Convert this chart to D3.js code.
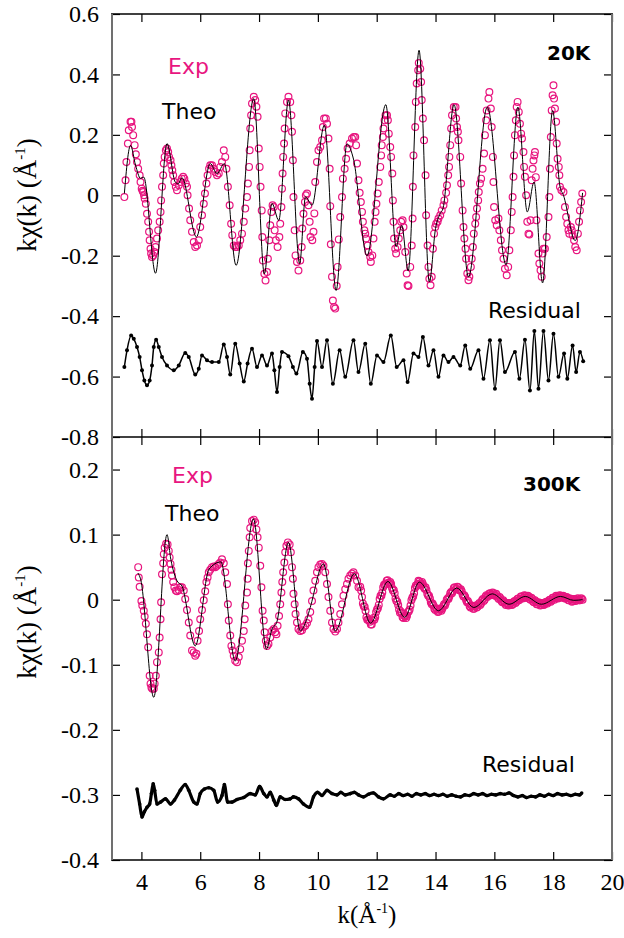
<!DOCTYPE html>
<html><head><meta charset="utf-8">
<script src="https://cdn.jsdelivr.net/npm/d3@7"></script>
<style>body{margin:0;background:#fff}</style>
</head><body>
<svg id="c" width="624" height="938"></svg>
<script>
const xTicks=[4,6,8,10,12,14,16,18,20];
const xLabels=["4","6","8","10","12","14","16","18","20"];
const topYTicks=[0.6,0.4,0.2,0,-0.2,-0.4,-0.6,-0.8];
const topYLabels=["0.6","0.4","0.2","0","-0.2","-0.4","-0.6","-0.8"];
const botYTicks=[0.2,0.1,0,-0.1,-0.2,-0.3,-0.4];
const botYLabels=["0.2","0.1","0","-0.1","-0.2","-0.3","-0.4"];

const topExp=[[3.42,-0.006],[3.46,0.05],[3.49,0.11],[3.54,0.171],[3.57,0.215],[3.63,0.243],[3.66,0.243],[3.68,0.226],[3.72,0.199],[3.77,0.166],[3.81,0.136],[3.85,0.11],[3.89,0.088],[3.94,0.066],[3.97,0.044],[4.01,0.022],[4.04,0.015],[4.06,0.011],[4.09,0],[4.11,-0.011],[4.15,-0.028],[4.19,-0.061],[4.23,-0.088],[4.26,-0.121],[4.28,-0.149],[4.31,-0.177],[4.33,-0.193],[4.36,-0.204],[4.40,-0.199],[4.44,-0.188],[4.48,-0.171],[4.53,-0.143],[4.57,-0.116],[4.62,-0.088],[4.65,-0.055],[4.67,-0.017],[4.70,0.028],[4.74,0.066],[4.76,0.105],[4.79,0.127],[4.83,0.149],[4.87,0.155],[4.91,0.143],[4.94,0.127],[4.99,0.116],[5.02,0.099],[5.05,0.083],[5.08,0.066],[5.12,0.044],[5.17,0.028],[5.21,0.017],[5.27,0.033],[5.32,0.044],[5.37,0.055],[5.42,0.061],[5.46,0.055],[5.51,0.039],[5.55,0.028],[5.57,0],[5.62,-0.044],[5.66,-0.083],[5.72,-0.121],[5.78,-0.155],[5.83,-0.171],[5.89,-0.166],[5.95,-0.149],[6.00,-0.105],[6.06,-0.066],[6.12,-0.028],[6.16,0.006],[6.21,0.039],[6.25,0.066],[6.30,0.088],[6.34,0.099],[6.40,0.099],[6.46,0.088],[6.51,0.077],[6.57,0.066],[6.63,0.072],[6.68,0.094],[6.74,0.110],[6.80,0.149],[6.85,0.127],[6.89,0.088],[6.94,0.028],[7.00,-0.033],[7.05,-0.094],[7.09,-0.132],[7.14,-0.166],[7.19,-0.171],[7.25,-0.171],[7.31,-0.166],[7.36,-0.149],[7.42,-0.127],[7.48,-0.088],[7.53,-0.044],[7.59,-0.006],[7.62,0.039],[7.66,0.094],[7.68,0.149],[7.70,0.221],[7.73,0.265],[7.76,0.304],[7.82,0.326],[7.87,0.315],[7.91,0.293],[7.95,0.260],[7.99,0.155],[8.02,0.094],[8.05,0.028],[8.09,-0.050],[8.11,-0.138],[8.13,-0.216],[8.18,-0.260],[8.22,-0.282],[8.27,-0.254],[8.30,-0.210],[8.35,-0.149],[8.38,-0.099],[8.42,-0.055],[8.46,-0.033],[8.50,-0.039],[8.53,-0.116],[8.57,-0.149],[8.63,-0.171],[8.69,-0.138],[8.72,-0.094],[8.76,-0.039],[8.78,0.022],[8.80,0.072],[8.82,0.127],[8.85,0.171],[8.87,0.221],[8.89,0.271],[8.95,0.309],[9.00,0.326],[9.06,0.309],[9.10,0.265],[9.12,0.210],[9.15,0.116],[9.17,-0.006],[9.21,-0.116],[9.24,-0.199],[9.29,-0.221],[9.34,-0.249],[9.40,-0.216],[9.45,-0.171],[9.47,-0.110],[9.51,-0.061],[9.56,-0.022],[9.59,0],[9.63,0.006],[9.68,-0.033],[9.72,-0.088],[9.75,-0.138],[9.81,-0.149],[9.85,-0.121],[9.88,-0.06],[9.91,0.044],[9.97,0.11],[10.02,0.149],[10.08,0.16],[10.14,0.182],[10.17,0.226],[10.21,0.254],[10.27,0.254],[10.31,0.237],[10.36,0.188],[10.40,0.088],[10.42,-0.036],[10.44,-0.162],[10.48,-0.270],[10.51,-0.348],[10.55,-0.37],[10.59,-0.375],[10.64,-0.30],[10.67,-0.237],[10.71,-0.146],[10.76,-0.072],[10.82,-0.006],[10.85,0.055],[10.91,0.088],[10.96,0.121],[11.01,0.155],[11.08,0.171],[11.16,0.188],[11.22,0.193],[11.27,0.193],[11.30,0.166],[11.33,0.105],[11.38,0.05],[11.42,0.008],[11.46,-0.022],[11.50,-0.055],[11.53,-0.088],[11.58,-0.116],[11.61,-0.127],[11.64,-0.143],[11.69,-0.166],[11.72,-0.188],[11.78,-0.204],[11.80,-0.221],[11.85,-0.199],[11.89,-0.143],[11.93,-0.088],[11.96,-0.055],[11.99,-0.028],[12.03,0.006],[12.07,0.044],[12.12,0.094],[12.15,0.132],[12.17,0.166],[12.21,0.193],[12.23,0.221],[12.27,0.248],[12.30,0.265],[12.35,0.265],[12.38,0.248],[12.41,0.204],[12.46,0.160],[12.49,0.127],[12.53,0.072],[12.55,-0.017],[12.57,-0.088],[12.59,-0.143],[12.63,-0.177],[12.66,-0.193],[12.71,-0.171],[12.75,-0.143],[12.80,-0.116],[12.83,-0.088],[12.88,-0.083],[12.91,-0.105],[12.97,-0.188],[13.02,-0.259],[13.05,-0.298],[13.08,-0.30],[13.14,-0.237],[13.19,-0.166],[13.22,-0.077],[13.23,0.028],[13.25,0.132],[13.31,0.226],[13.33,0.309],[13.36,0.37],[13.41,0.414],[13.43,0.438],[13.48,0.419],[13.51,0.375],[13.53,0.315],[13.57,0.254],[13.61,0.182],[13.66,0.066],[13.68,-0.066],[13.73,-0.166],[13.76,-0.237],[13.79,-0.276],[13.83,-0.298],[13.87,-0.27],[13.91,-0.177],[13.95,-0.127],[13.99,-0.105],[14.02,-0.094],[14.07,-0.088],[14.10,-0.077],[14.16,-0.066],[14.21,-0.05],[14.27,-0.033],[14.30,-0.017],[14.36,0.008],[14.39,0.033],[14.43,0.066],[14.46,0.094],[14.47,0.127],[14.50,0.166],[14.53,0.221],[14.56,0.265],[14.62,0.292],[14.68,0.292],[14.70,0.254],[14.73,0.226],[14.76,0.21],[14.78,0.182],[14.84,0.127],[14.87,0.039],[14.92,-0.05],[14.95,-0.105],[14.98,-0.143],[15.02,-0.177],[15.04,-0.21],[15.08,-0.259],[15.12,-0.281],[15.15,-0.27],[15.20,-0.237],[15.23,-0.21],[15.27,-0.171],[15.30,-0.127],[15.35,-0.094],[15.38,-0.072],[15.41,-0.044],[15.45,-0.017],[15.47,0.011],[15.51,0.039],[15.55,0.055],[15.60,0.088],[15.65,0.138],[15.68,0.199],[15.72,0.248],[15.74,0.281],[15.80,0.32],[15.83,0.342],[15.88,0.287],[15.91,0.226],[15.95,0.127],[15.97,0.044],[15.99,-0.039],[16.03,-0.083],[16.08,-0.099],[16.14,-0.077],[16.17,-0.116],[16.22,-0.149],[16.26,-0.182],[16.31,-0.21],[16.36,-0.243],[16.42,-0.265],[16.47,-0.237],[16.51,-0.182],[16.56,-0.116],[16.59,-0.055],[16.62,-0.006],[16.65,0.061],[16.67,0.132],[16.70,0.199],[16.73,0.248],[16.76,0.292],[16.79,0.309],[16.83,0.276],[16.87,0.237],[16.91,0.204],[16.94,0.188],[16.99,0.143],[17.01,0.094],[17.04,0.061],[17.08,0.0],[17.12,-0.088],[17.16,-0.127],[17.19,-0.13],[17.23,-0.083],[17.27,0.05],[17.30,0.088],[17.33,0.115],[17.36,0.132],[17.38,0.143],[17.41,0.06],[17.43,-0.083],[17.50,-0.193],[17.53,-0.226],[17.57,-0.248],[17.61,-0.27],[17.64,-0.193],[17.67,-0.177],[17.72,-0.177],[17.78,-0.138],[17.84,-0.072],[17.87,-0.006],[17.89,0.088],[17.92,0.193],[17.95,0.281],[17.98,0.331],[18.01,0.364],[18.03,0.32],[18.06,0.287],[18.10,0.243],[18.12,0.171],[18.15,0.121],[18.19,0.094],[18.21,0.066],[18.23,0.028],[18.28,0.017],[18.35,0.011],[18.40,-0.039],[18.44,-0.072],[18.48,-0.094],[18.52,-0.116],[18.55,-0.127],[18.60,-0.105],[18.63,-0.116],[18.66,-0.132],[18.71,-0.149],[18.75,-0.171],[18.80,-0.182],[18.84,-0.127],[18.88,-0.088],[18.91,-0.05],[18.95,-0.022],[18.99,0.006]];

const topTheo=[[3.42,0.006],[3.63,0.165],[3.80,0.10],[3.97,0.056],[4.08,0.06],[4.48,-0.258],[4.87,0.171],[5.15,0.044],[5.25,0.038],[5.38,0.058],[5.87,-0.138],[6.34,0.105],[6.57,0.072],[6.82,0.105],[7.22,-0.232],[7.82,0.32],[8.18,-0.26],[8.44,-0.027],[8.67,-0.083],[9.0,0.315],[9.38,-0.226],[9.58,-0.005],[9.80,-0.033],[10.22,0.232],[10.62,-0.315],[10.99,0.17],[11.21,0.12],[11.67,-0.2],[12.31,0.30],[12.66,-0.17],[12.85,-0.10],[13.07,-0.25],[13.44,0.48],[13.79,-0.287],[14.0,-0.11],[14.16,-0.06],[14.25,-0.045],[14.63,0.30],[15.12,-0.27],[15.76,0.292],[16.40,-0.23],[16.80,0.292],[17.12,-0.055],[17.35,0.044],[17.64,-0.29],[17.98,0.28],[18.23,0.03],[18.35,0.0],[18.75,-0.15],[19.0,0.008]];

const topRes=[[3.42,-0.568],[3.51,-0.513],[3.65,-0.464],[3.74,-0.475],[3.85,-0.502],[3.94,-0.535],[4.02,-0.579],[4.10,-0.613],[4.19,-0.629],[4.28,-0.613],[4.36,-0.563],[4.42,-0.502],[4.50,-0.478],[4.59,-0.502],[4.70,-0.535],[4.87,-0.563],[5.10,-0.579],[5.27,-0.563],[5.49,-0.522],[5.61,-0.535],[5.83,-0.593],[5.95,-0.574],[6.06,-0.530],[6.23,-0.546],[6.40,-0.552],[6.63,-0.552],[6.80,-0.494],[6.91,-0.535],[7.02,-0.593],[7.19,-0.491],[7.34,-0.557],[7.48,-0.616],[7.61,-0.557],[7.76,-0.508],[7.93,-0.568],[8.10,-0.530],[8.27,-0.563],[8.44,-0.524],[8.52,-0.579],[8.61,-0.651],[8.70,-0.568],[8.78,-0.519],[9.00,-0.533],[9.15,-0.568],[9.27,-0.590],[9.49,-0.519],[9.63,-0.541],[9.72,-0.624],[9.80,-0.673],[9.89,-0.568],[9.97,-0.482],[10.14,-0.568],[10.31,-0.480],[10.51,-0.624],[10.74,-0.513],[10.93,-0.601],[11.21,-0.480],[11.38,-0.585],[11.61,-0.491],[11.80,-0.624],[12.01,-0.530],[12.23,-0.552],[12.48,-0.464],[12.68,-0.568],[12.91,-0.546],[13.05,-0.618],[13.25,-0.524],[13.42,-0.535],[13.57,-0.469],[13.76,-0.563],[13.93,-0.513],[14.10,-0.601],[14.27,-0.530],[14.44,-0.552],[14.61,-0.535],[14.84,-0.563],[15.01,-0.497],[15.18,-0.574],[15.46,-0.513],[15.63,-0.607],[15.85,-0.480],[16.02,-0.640],[16.19,-0.480],[16.36,-0.585],[16.70,-0.519],[16.85,-0.607],[17.04,-0.478],[17.21,-0.646],[17.36,-0.449],[17.50,-0.640],[17.67,-0.449],[17.84,-0.613],[18.01,-0.458],[18.18,-0.601],[18.37,-0.524],[18.48,-0.607],[18.66,-0.497],[18.78,-0.585],[18.91,-0.519],[19.02,-0.549]];

const botExp=[[3.89,0.050],[3.91,0.034],[3.94,0.020],[4.00,-0.002],[4.03,-0.009],[4.08,-0.017],[4.11,-0.026],[4.15,-0.037],[4.19,-0.053],[4.23,-0.073],[4.28,-0.117],[4.31,-0.129],[4.34,-0.135],[4.37,-0.137],[4.42,-0.137],[4.45,-0.129],[4.49,-0.117],[4.53,-0.096],[4.59,-0.081],[4.62,-0.058],[4.65,-0.030],[4.67,-0.004],[4.70,0.039],[4.74,0.056],[4.76,0.070],[4.79,0.080],[4.84,0.086],[4.89,0.085],[4.93,0.075],[4.96,0.065],[4.99,0.055],[5.02,0.046],[5.04,0.037],[5.08,0.027],[5.12,0.019],[5.17,0.014],[5.21,0.013],[5.27,0.015],[5.32,0.019],[5.38,0.019],[5.44,0.014],[5.49,0.001],[5.55,-0.016],[5.61,-0.035],[5.66,-0.055],[5.72,-0.078],[5.78,-0.081],[5.83,-0.086],[5.87,-0.083],[5.91,-0.063],[5.96,-0.048],[6.00,-0.030],[6.06,-0.016],[6.12,-0.001],[6.17,0.013],[6.21,0.027],[6.25,0.034],[6.29,0.042],[6.34,0.046],[6.40,0.050],[6.46,0.051],[6.51,0.050],[6.57,0.052],[6.63,0.055],[6.68,0.057],[6.74,0.062],[6.80,0.056],[6.85,0.042],[6.91,0.024],[6.94,-0.007],[6.97,-0.032],[7.02,-0.055],[7.06,-0.071],[7.10,-0.078],[7.14,-0.086],[7.19,-0.094],[7.25,-0.096],[7.31,-0.088],[7.36,-0.076],[7.42,-0.063],[7.48,-0.048],[7.51,-0.030],[7.53,-0.009],[7.59,0.011],[7.61,0.032],[7.62,0.056],[7.65,0.075],[7.68,0.096],[7.70,0.110],[7.76,0.121],[7.82,0.123],[7.87,0.119],[7.91,0.108],[7.95,0.096],[7.99,0.080],[8.04,0.052],[8.08,0.019],[8.12,-0.017],[8.16,-0.032],[8.19,-0.050],[8.23,-0.063],[8.27,-0.071],[8.32,-0.068],[8.38,-0.058],[8.44,-0.048],[8.50,-0.045],[8.55,-0.050],[8.59,-0.053],[8.63,-0.040],[8.68,-0.025],[8.72,-0.007],[8.76,0.011],[8.79,0.027],[8.82,0.042],[8.86,0.057],[8.89,0.073],[8.93,0.083],[8.98,0.088],[9.04,0.085],[9.08,0.073],[9.12,0.050],[9.15,0.032],[9.17,0.009],[9.21,-0.007],[9.24,-0.022],[9.29,-0.035],[9.34,-0.045],[9.40,-0.048],[9.46,-0.047],[9.51,-0.042],[9.57,-0.040],[9.63,-0.036],[9.68,-0.030],[9.74,-0.019],[9.80,-0.002],[9.85,0.014],[9.91,0.029],[9.97,0.042],[10.02,0.050],[10.08,0.054],[10.14,0.055],[10.19,0.052],[10.25,0.042],[10.31,0.024],[10.36,0.004],[10.42,-0.017],[10.48,-0.035],[10.53,-0.045],[10.59,-0.049],[10.65,-0.045],[10.70,-0.035],[10.76,-0.022],[10.82,-0.007],[10.87,0.006],[10.93,0.016],[10.99,0.024],[11.04,0.032],[11.10,0.037],[11.16,0.040],[11.21,0.042],[11.27,0.037],[11.33,0.029],[11.38,0.019],[11.44,0.020],[11.50,0.004],[11.56,-0.010],[11.62,-0.017],[11.68,-0.031],[11.74,-0.032],[11.80,-0.038],[11.86,-0.032],[11.92,-0.031],[11.98,-0.019],[12.04,-0.013],[12.10,0.001],[12.16,0.006],[12.22,0.019],[12.28,0.023],[12.34,0.029],[12.40,0.026],[12.46,0.027],[12.52,0.018],[12.58,0.015],[12.64,0.002],[12.70,-0.003],[12.76,-0.015],[12.82,-0.018],[12.88,-0.027],[12.94,-0.025],[13.00,-0.028],[13.06,-0.019],[13.12,-0.015],[13.18,-0.001],[13.24,0.005],[13.30,0.018],[13.36,0.021],[13.42,0.029],[13.48,0.025],[13.54,0.027],[13.60,0.019],[13.66,0.019],[13.72,0.009],[13.78,0.006],[13.84,-0.004],[13.90,-0.006],[13.96,-0.014],[14.02,-0.013],[14.08,-0.019],[14.14,-0.014],[14.20,-0.017],[14.26,-0.010],[14.32,-0.009],[14.38,0.000],[14.44,0.001],[14.50,0.010],[14.56,0.010],[14.62,0.018],[14.68,0.016],[14.74,0.020],[14.80,0.015],[14.86,0.016],[14.92,0.008],[14.98,0.007],[15.04,-0.001],[15.10,-0.002],[15.16,-0.010],[15.22,-0.009],[15.28,-0.014],[15.34,-0.010],[15.40,-0.012],[15.46,-0.007],[15.52,-0.008],[15.58,-0.001],[15.64,-0.002],[15.70,0.005],[15.76,0.004],[15.82,0.009],[15.88,0.007],[15.94,0.011],[16.00,0.007],[16.06,0.009],[16.12,0.003],[16.18,0.004],[16.24,-0.002],[16.30,-0.001],[16.36,-0.006],[16.42,-0.005],[16.48,-0.009],[16.54,-0.005],[16.60,-0.008],[16.66,-0.003],[16.72,-0.005],[16.78,0.001],[16.84,-0.001],[16.90,0.005],[16.96,0.002],[17.02,0.007],[17.08,0.003],[17.14,0.006],[17.20,0.001],[17.26,0.003],[17.32,-0.003],[17.38,-0.001],[17.44,-0.007],[17.50,-0.004],[17.56,-0.009],[17.62,-0.005],[17.68,-0.008],[17.74,-0.004],[17.80,-0.006],[17.86,-0.001],[17.92,-0.003],[17.98,0.003],[18.04,0.000],[18.10,0.006],[18.16,0.002],[18.22,0.007],[18.28,0.003],[18.34,0.006],[18.40,0.002],[18.46,0.004],[18.52,-0.001],[18.58,0.002],[18.64,-0.003],[18.70,0.001],[18.76,-0.002],[18.82,0.002],[18.88,-0.001],[18.94,0.002],[19.00,0.000]];

const botExpHiK=[[11.47,0.014],[11.53,-0.006],[11.59,-0.011],[11.65,-0.027],[11.71,-0.030],[11.77,-0.034],[11.83,-0.038],[11.89,-0.028],[11.95,-0.027],[12.01,-0.015],[12.07,-0.008],[12.13,0.006],[12.19,0.011],[12.25,0.023],[12.31,0.025],[12.37,0.030],[12.43,0.025],[12.49,0.024],[12.55,0.014],[12.61,0.010],[12.67,-0.002],[12.73,-0.008],[12.79,-0.020],[12.85,-0.021],[12.91,-0.028],[12.97,-0.025],[13.03,-0.025],[13.09,-0.018],[13.15,-0.009],[13.21,0.003],[13.27,0.010],[13.33,0.022],[13.39,0.024],[13.45,0.028],[13.51,0.024],[13.57,0.024],[13.63,0.017],[13.69,0.015],[13.75,0.006],[13.81,0.002],[13.87,-0.007],[13.93,-0.009],[13.99,-0.016],[14.05,-0.015],[14.11,-0.018],[14.17,-0.015],[14.23,-0.014],[14.29,-0.007],[14.35,-0.005],[14.41,0.002],[14.47,0.005],[14.53,0.012],[14.59,0.013],[14.65,0.019],[14.71,0.017],[14.77,0.019],[14.83,0.014],[14.89,0.013],[14.95,0.005],[15.01,0.004],[15.07,-0.004],[15.13,-0.005],[15.19,-0.012],[15.25,-0.010],[15.31,-0.014],[15.37,-0.009],[15.43,-0.011],[15.49,-0.005],[15.55,-0.006],[15.61,0.001],[15.67,0.000],[15.73,0.007],[15.79,0.006],[15.85,0.010],[15.91,0.008],[15.97,0.010],[16.03,0.006],[16.09,0.007],[16.15,0.001],[16.21,0.002],[16.27,-0.004],[16.33,-0.003],[16.39,-0.008],[16.45,-0.006],[16.51,-0.008],[16.57,-0.005],[16.63,-0.007],[16.69,-0.002],[16.75,-0.003],[16.81,0.002],[16.87,0.001],[16.93,0.005],[16.99,0.003],[17.05,0.006],[17.11,0.003],[17.17,0.005],[17.23,0.000],[17.29,0.001],[17.35,-0.004],[17.41,-0.003],[17.47,-0.007],[17.53,-0.005],[17.59,-0.008],[17.65,-0.005],[17.71,-0.007],[17.77,-0.003],[17.83,-0.004],[17.89,0.000],[17.95,-0.001],[18.01,0.003],[18.07,0.002],[18.13,0.005],[18.19,0.003],[18.25,0.006],[18.31,0.004],[18.37,0.005],[18.43,0.002],[18.49,0.003],[18.55,-0.001],[18.61,0.001],[18.67,-0.002],[18.73,0.001],[18.79,-0.001],[18.85,0.002],[18.91,-0.001],[18.97,0.002]];

const botTheo=[[3.88,0.041],[3.97,0.032],[4.42,-0.150],[4.87,0.100],[5.00,0.062],[5.21,0.029],[5.38,0.021],[5.83,-0.071],[6.30,0.047],[6.70,0.058],[7.19,-0.094],[7.81,0.124],[8.25,-0.076],[8.44,-0.045],[8.60,-0.035],[9.00,0.088],[9.40,-0.048],[9.62,-0.030],[9.74,-0.012],[10.19,0.055],[10.59,-0.048],[11.24,0.040],[11.79,-0.036],[12.38,0.028],[12.95,-0.027],[13.45,0.027],[14.10,-0.017],[14.72,0.018],[15.30,-0.012],[15.93,0.009],[16.50,-0.007],[17.05,0.005],[17.60,-0.007],[18.25,0.005],[18.70,-0.001],[19.0,0.0]];

const botRes=[[3.85,-0.291],[3.94,-0.314],[4.02,-0.334],[4.10,-0.326],[4.19,-0.319],[4.28,-0.314],[4.34,-0.298],[4.40,-0.283],[4.45,-0.293],[4.53,-0.314],[4.65,-0.311],[4.82,-0.306],[4.99,-0.314],[5.12,-0.308],[5.32,-0.293],[5.49,-0.284],[5.61,-0.293],[5.78,-0.311],[5.89,-0.314],[6.00,-0.298],[6.14,-0.291],[6.29,-0.289],[6.46,-0.293],[6.59,-0.311],[6.74,-0.301],[6.82,-0.284],[6.93,-0.311],[7.08,-0.311],[7.25,-0.307],[7.48,-0.304],[7.70,-0.298],[7.87,-0.300],[8.02,-0.287],[8.16,-0.298],[8.27,-0.303],[8.38,-0.296],[8.50,-0.308],[8.59,-0.316],[8.72,-0.303],[8.89,-0.307],[9.06,-0.306],[9.17,-0.303],[9.34,-0.306],[9.51,-0.314],[9.72,-0.319],[9.85,-0.303],[9.99,-0.296],[10.14,-0.301],[10.31,-0.293],[10.48,-0.298],[10.65,-0.300],[10.78,-0.296],[10.93,-0.300],[11.10,-0.298],[11.24,-0.296],[11.38,-0.300],[11.55,-0.303],[11.72,-0.299],[11.89,-0.297],[12.06,-0.303],[12.23,-0.306],[12.46,-0.300],[12.60,-0.302],[12.75,-0.298],[12.90,-0.301],[13.05,-0.299],[13.20,-0.302],[13.35,-0.298],[13.50,-0.300],[13.65,-0.298],[13.80,-0.301],[13.95,-0.299],[14.10,-0.301],[14.25,-0.299],[14.40,-0.302],[14.55,-0.300],[14.70,-0.302],[14.85,-0.303],[15.00,-0.300],[15.15,-0.301],[15.30,-0.298],[15.45,-0.300],[15.60,-0.298],[15.75,-0.301],[15.90,-0.299],[16.05,-0.300],[16.20,-0.298],[16.35,-0.299],[16.50,-0.297],[16.65,-0.301],[16.80,-0.303],[16.95,-0.301],[17.10,-0.304],[17.25,-0.302],[17.40,-0.303],[17.55,-0.300],[17.70,-0.302],[17.85,-0.299],[18.00,-0.301],[18.15,-0.298],[18.30,-0.300],[18.45,-0.299],[18.60,-0.301],[18.75,-0.299],[18.90,-0.300],[18.97,-0.297]];

const PINK="#e8157f";
const svg=d3.select("#c");
const L=112,R=612,T1=14,B1=437,B2=860;
const x=d3.scaleLinear([3,20],[L,R]);
const yT=d3.scaleLinear([-0.8,0.6],[B1,T1]);
const yB=d3.scaleLinear([-0.4,0.25],[B2,B1]);
const serif="'Liberation Serif','Times New Roman',serif";
const sans="'DejaVu Sans',sans-serif";

function styleAx(g,showText){
  g.attr("font-family",null).attr("font-size",null);
  g.select(".domain").remove();
  g.selectAll(".tick line").attr("stroke","#000").attr("stroke-width",1.2);
  g.selectAll(".tick text").style("font-family",serif).style("font-size","24px").attr("fill","#000");
  if(!showText) g.selectAll(".tick text").remove();
}
function panel(y,yt,yl,y0,y1,exp,theo,res,resW,resR){
  svg.append("g").attr("transform",`translate(${L},0)`)
    .call(d3.axisLeft(y).tickValues(yt).tickFormat((d,i)=>yl[i]).tickSizeInner(-8).tickSizeOuter(0).tickPadding(13))
    .call(g=>styleAx(g,true));
  svg.append("g").attr("transform",`translate(${R},0)`)
    .call(d3.axisRight(y).tickValues(yt).tickSizeInner(-8).tickSizeOuter(0))
    .call(g=>styleAx(g,false));
  svg.append("g").attr("transform",`translate(0,${y0})`)
    .call(d3.axisTop(x).tickValues(xTicks).tickSizeInner(-8).tickSizeOuter(0))
    .call(g=>styleAx(g,false));
  svg.append("g").attr("transform",`translate(0,${y1})`)
    .call(d3.axisBottom(x).tickValues(xTicks).tickSizeInner(-8).tickSizeOuter(0))
    .call(g=>styleAx(g,false));
  svg.append("g").selectAll("circle").data(exp).join("circle")
    .attr("cx",d=>x(d[0])).attr("cy",d=>y(d[1])).attr("r",3.4)
    .attr("fill","none").attr("stroke",PINK).attr("stroke-width",1.2);
  const line=d3.line().x(d=>x(d[0])).y(d=>y(d[1])).curve(d3.curveMonotoneX);
  svg.append("path").datum(theo).attr("d",line).attr("fill","none").attr("stroke","#000").attr("stroke-width",1);
  svg.append("path").datum(res).attr("d",line).attr("fill","none").attr("stroke","#000").attr("stroke-width",resW);
  svg.append("g").selectAll("circle").data(res).join("circle")
    .attr("cx",d=>x(d[0])).attr("cy",d=>y(d[1])).attr("r",resR).attr("fill","#000");
}
panel(yT,topYTicks,topYLabels,T1,B1,topExp,topTheo,topRes,1.5,2.0);
panel(yB,botYTicks,botYLabels,B1,B2,botExp.concat(botExpHiK),botTheo,botRes,3.2,1.8);

svg.append("g").attr("transform",`translate(0,${B2})`)
  .call(d3.axisBottom(x).tickValues(xTicks).tickFormat((d,i)=>xLabels[i]).tickSize(0).tickPadding(13))
  .call(g=>{g.attr("font-family",null).attr("font-size",null);g.select(".domain").remove();g.selectAll(".tick text").style("font-family",serif).style("font-size","24px").attr("fill","#000");});

const fr=svg.append("g");
[T1,B1,B2].forEach(yy=>fr.append("line").attr("x1",L-1).attr("x2",R+1).attr("y1",yy).attr("y2",yy).attr("stroke","#000").attr("stroke-width",1.5));
[L,R].forEach(xx=>fr.append("line").attr("x1",xx).attr("x2",xx).attr("y1",T1).attr("y2",B2).attr("stroke","#707070").attr("stroke-width",2));

function t(xx,yy,s,col,size,weight){svg.append("text").attr("x",xx).attr("y",yy).text(s).attr("fill",col).style("font-family",sans).style("font-size",size+"px").style("font-weight",weight||"normal");}
t(168,74,"Exp",PINK,22);
t(162,119,"Theo","#000",22);
t(547,60,"20K","#000",20,"bold");
t(488,318,"Residual","#000",22);
t(172,483,"Exp",PINK,22);
t(165,521,"Theo","#000",22);
t(523,491,"300K","#000",20,"bold");
t(482,772,"Residual","#000",22);

function ytitle(cx,cy){
  const tx=svg.append("text").attr("transform",`translate(${cx},${cy}) rotate(-90)`).attr("text-anchor","middle")
    .style("font-family",serif).style("font-size","27px").attr("fill","#000");
  tx.append("tspan").text("kχ(k) (Å");
  tx.append("tspan").attr("dy",-11).style("font-size","15px").text("-1");
  tx.append("tspan").attr("dy",11).text(")");
}
ytitle(36,195);
ytitle(36,622);
const xt=svg.append("text").attr("x",367).attr("y",923).attr("text-anchor","middle")
  .style("font-family",serif).style("font-size","25px").attr("fill","#000");
xt.append("tspan").text("k(Å");
xt.append("tspan").attr("dy",-10).style("font-size","14px").text("-1");
xt.append("tspan").attr("dy",10).text(")");
</script>
</body></html>
